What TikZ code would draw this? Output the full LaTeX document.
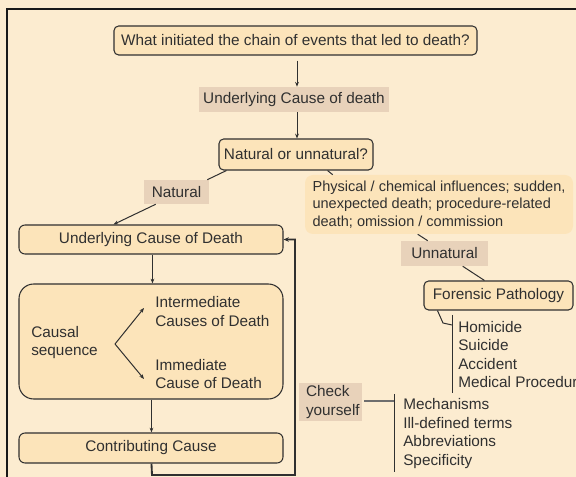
\documentclass[tikz,border=0pt]{standalone}
\usepackage{fontspec}
\setmainfont{Liberation Sans}
\usetikzlibrary{arrows.meta,calc}
\definecolor{bgc}{HTML}{FCECD0}
\definecolor{boxc}{HTML}{FCE4BA}
\definecolor{tanc}{HTML}{E8D2BA}
\definecolor{inkc}{HTML}{303030}
\begin{document}
\begin{tikzpicture}[x=0.75pt,y=-0.75pt,
  every node/.style={font=\fontsize{11.5}{13.9}\selectfont, text=inkc, inner sep=0pt},
  sz/.style 2 args={minimum width={#1*0.75pt}, minimum height={#2*0.75pt}},
  boxnode/.style={draw=inkc, fill=boxc, line width=0.8pt, rounded corners=3.5pt},
  tannode/.style={fill=tanc},
  softbox/.style={fill=boxc, rounded corners=6pt},
  conn/.style={draw=inkc, line width=0.75pt},
  arr/.style={conn, -{Stealth[length=3.6pt,width=2.8pt]}},
  looparr/.style={draw=inkc, line width=1.4pt, -{Stealth[length=4pt,width=3.4pt]}},
  listtext/.style={align=left, anchor=west},
]
% background and frame
\fill[bgc] (0,0) rectangle (576,477);
\useasboundingbox (0,0) rectangle (576,477);
\draw[black!90, line width=1pt] (7,477) -- (7,9) -- (576,9);

% top chain
\node[boxnode, sz={363}{29}] (q) at (295.5,40.5) {What initiated the chain of events that led to death?};
\node[tannode, sz={190}{25}] (ucd) at (294,99.5) {Underlying Cause of death};
\node[boxnode, sz={154}{31}] (nu) at (296,154.5) {Natural or unnatural?};

\draw[arr] ([xshift=0.75pt]q.south -| nu.north) ++(0,5) coordinate (qa) -- (qa |- ucd.north);
\draw[arr] (ucd.south -| qa) -- (qa |- nu.north);

% natural branch
\node[tannode, sz={65}{24}] (nat) at (176.5,192) {Natural};
\node[boxnode, sz={264}{29}, rounded corners=4.5pt] (ub) at (151,239.5) {Underlying Cause of Death};
\draw[conn] ($(nu.south west)+(8,0)$) -- ($(nat.north east)+(-2,0)$);
\draw[arr] ($(nat.south west)+(12,0)$) -- ($(ub.north west)+(95,0)$);

% causal sequence
\node[boxnode, sz={264}{115}, rounded corners=11pt] (cs) at (151,341.5) {};
\node[listtext] (causal) at (31,342.5) {Causal\\sequence};
\node[listtext] (inter) at (155,311.5) {Intermediate\\Causes of Death};
\node[listtext] (imm) at (155,374) {Immediate\\Cause of Death};
\coordinate (apex) at (115,344);
\coordinate (tipu) at (144,308);
\coordinate (tipd) at (144,379);
\draw[arr] (apex) -- (tipu);
\draw[arr] (apex) -- (tipd);
\draw[arr] ($(ub.south west)+(134,0)$) -- ($(cs.north west)+(134,0)$);

% contributing cause
\node[boxnode, sz={264}{30}, rounded corners=4.5pt] (cc) at (151,448) {Contributing Cause};
\draw[arr] ($(cs.south west)+(133,0)$) -- ($(cc.north west)+(133,0)$);
\coordinate (lb) at (152,475);
\coordinate (rb) at (295,475);
\draw[looparr] ($(cc.south west)+(133,0)$) -- (lb) -- (rb) |- (ub.east);

% unnatural branch
\node[softbox, sz={268}{59}, align=left, font=\fontsize{10.9}{13.1}\selectfont] (phys) at (439,204.5) {Physical / chemical influences; sudden,\\unexpected death; procedure-related\\death; omission / commission};
\draw[conn] ($(nu.south east)+(-46,0)$) -- ($(phys.north west)+(28,0)$);
\node[tannode, sz={87}{25}] (unn) at (444.5,253.5) {Unnatural};
\draw[conn] ($(phys.south west)+(113,0)$) -- ($(unn.north west)+(27,0)$);
\node[boxnode, sz={149}{29}] (fp) at (498.5,295.5) {Forensic Pathology};
\draw[conn] ($(unn.south west)+(62,0)$) -- ($(fp.north west)+(61,0)$);

% forensic list
\node[listtext] (flist) at (458,354.5) {Homicide\\Suicide\\Accident\\Medical Procedure};
\coordinate (fbt) at (452,315);
\coordinate (fbb) at (452,393);
\coordinate (fhk) at (443,323);
\coordinate (fhj) at (452,325);
\draw[conn] (fbt) -- (fbb);
\draw[conn] ($(fp.south west)+(14,0)$) -- (fhk) -- (fhj);

% check yourself
\node[tannode, sz={63}{38}, align=left, text width={49*0.75pt}] (chk) at (330.5,402) {Check\\yourself};
\node[listtext] (mlist) at (403,433.5) {Mechanisms\\Ill-defined terms\\Abbreviations\\Specificity};
\coordinate (cbj) at (394,401);
\coordinate (cbt) at (394,394);
\coordinate (cbb) at (394,472);
\draw[draw=inkc!70, line width=1.3pt] ($(chk.east)+(2,-1)$) -- (cbj);
\draw[conn] (cbt) -- (cbb);
\end{tikzpicture}
\end{document}
